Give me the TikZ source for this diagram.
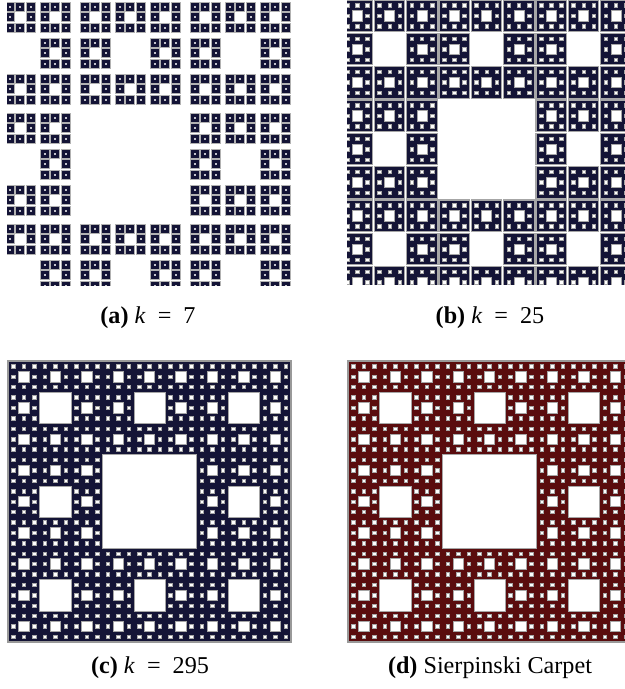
\documentclass[tikz,border=0pt]{standalone}
\usepackage{fontspec}
\setmainfont{Liberation Serif}
\definecolor{carpetnavy}{RGB}{20,20,54}
\definecolor{carpetred}{RGB}{90,12,14}

% white holes of a carpet square, one pass per level in #5 (small first)
\newcommand{\carpetholes}[5]{%
  \foreach \n in {#5}{%
    \pgfmathtruncatemacro\nlast{\n-1}
    \pgfmathsetmacro\hw{#3/(3*\n)}
    \pgfmathsetmacro\hh{#4/(3*\n)}
    \foreach \i in {0,...,\nlast}
      \foreach \j in {0,...,\nlast}
        \fill[hole] ({#1+(3*\i+1)*\hw},{#2+(3*\j+1)*\hh}) rectangle ++(\hw,\hh);
  }}

\begin{document}
\begin{tikzpicture}[x=0.385pt,y=-0.385pt,
  hole/.style={fill=white,draw=black!35,line width=0.2pt},
  dot/.style={fill=white!75!carpetnavy},
  cella/.style={fill=carpetnavy,draw=black!30,line width=0.3pt},
  cellb/.style={fill=carpetnavy,draw=black!35,line width=0.4pt},
  caption/.style={font=\fontsize{9.3}{11}\selectfont,inner sep=0pt}]
\useasboundingbox (0,0) rectangle (625,689);

% (a) k = 7
\begin{scope}
\clip (7,0) rectangle (291,285);
\foreach \bi in {0,1,2}
\foreach \bj in {0,1,2}
\foreach \mi in {0,1,2}
\foreach \mj in {0,1,2}{
  \pgfmathtruncatemacro\isgap{and(\bi==1,\bj==1)+and(\mi==1,\mj==1)}
  \ifnum\isgap=0
    \foreach \si in {0,1,2}
    \foreach \sj in {0,1,2}{
      \pgfmathtruncatemacro\ismid{and(\si==1,\sj==1)}
      \ifnum\ismid=0
        \pgfmathsetmacro\cx{-30+110*\bi+35*\mi+10.5*\si}
        \pgfmathsetmacro\cy{2+111*\bj+36*\mj+10.5*\sj}
        \fill[cella] (\cx,\cy) rectangle ++(9,9);
        \fill[dot] (\cx+3.5,\cy+3.5) rectangle ++(2,2);
      \fi
    }
  \fi
}
\end{scope}

% (b) k = 25
\begin{scope}
\clip (347,0) rectangle (625,284);
\foreach \bi in {0,1,2}
\foreach \bj in {0,1,2}
\foreach \mi in {0,1,2}
\foreach \mj in {0,1,2}{
  \pgfmathtruncatemacro\isgap{and(\bi==1,\bj==1)+and(\mi==1,\mj==1)}
  \ifnum\isgap=0
    \pgfmathsetmacro\bx{342+97*\bi+32.33*\mi}
    \pgfmathsetmacro\by{100*\bj+33.33*\mj}
    \fill[cellb] (\bx,\by) rectangle ++(30.5,31.5);
    \carpetholes{\bx}{\by}{30.5}{31.5}{3,1}
  \fi
}
\end{scope}

% (c) k = 295
\fill[carpetnavy,draw=black!40,line width=0.4pt] (8,361) rectangle (291,642);
\carpetholes{8}{361}{283}{281}{27,9,3,1}

% (d) the carpet itself
\begin{scope}
\clip (347,355) rectangle (625,650);
\fill[carpetred,draw=black!40,line width=0.4pt] (348,361) rectangle (631,642);
\carpetholes{348}{361}{283}{281}{27,9,3,1}
\end{scope}

\node[caption] (capa) at (148,318) {\textbf{(a)} \textit{k}\hspace{0.5em}=\hspace{0.5em}7};
\node[caption] (capb) at (490,318) {\textbf{(b)} \textit{k}\hspace{0.5em}=\hspace{0.5em}25};
\node[caption] (capc) at (150,668) {\textbf{(c)} \textit{k}\hspace{0.5em}=\hspace{0.5em}295};
\node[caption] (capd) at (490,668) {\textbf{(d)} Sierpinski Carpet};
\end{tikzpicture}
\end{document}
